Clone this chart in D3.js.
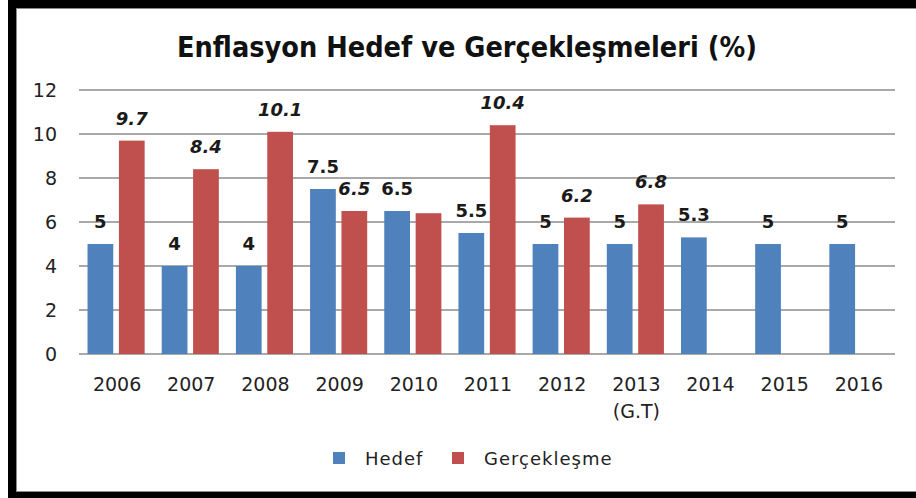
<!DOCTYPE html>
<html>
<head>
<meta charset="utf-8">
<script src="https://cdn.jsdelivr.net/npm/d3@7"></script>
<style>
  body { margin: 0; background: #fff; }
  svg { display: block; }
</style>
</head>
<body>
<div id="chart"></div>
<script>
// chart data
var years = ["2006", "2007", "2008", "2009", "2010", "2011", "2012", "2013", "2014", "2015", "2016"];
var yearSub = ["", "", "", "", "", "", "", "(G.T)", "", "", ""];
var hedef = [5, 4, 4, 7.5, 6.5, 5.5, 5, 5, 5.3, 5, 5];
var gerceklesme = [9.7, 8.4, 10.1, 6.5, 6.4, 10.4, 6.2, 6.8, null, null, null];
var hedefLabels = ["5", "4", "4", "7.5", "6.5", "5.5", "5", "5", "5.3", "5", "5"];
var gercLabels = ["9.7", "8.4", "10.1", "6.5", "", "10.4", "6.2", "6.8", "", "", ""];
var yTicks = [0, 2, 4, 6, 8, 10, 12];
var seriesNames = ["Hedef", "Gerçekleşme"];
var seriesColors = ["#4F81BD", "#C0504D"];

var W = 916, H = 498;
var svg = d3.select("#chart").append("svg")
    .attr("width", W)
    .attr("height", H);

// frame
svg.append("rect").attr("x", 8).attr("y", 0).attr("width", W - 8).attr("height", H).attr("fill", "#000");
svg.append("rect").attr("x", 16.5).attr("y", 8.5).attr("width", W - 16).attr("height", 483)
    .attr("fill", "#fff").attr("stroke", "#8a8a8a").attr("stroke-width", 1);

// title
svg.append("text")
    .attr("x", 467)
    .attr("y", 57)
    .attr("text-anchor", "middle")
    .style("font-family", "'DejaVu Sans', sans-serif")
    .style("font-weight", "bold")
    .style("font-size", "28px")
    .attr("textLength", 580)
    .attr("lengthAdjust", "spacingAndGlyphs")
    .attr("fill", "#111")
    .text("Enflasyon Hedef ve Gerçekleşmeleri (%)");

var plotLeft = 79, plotRight = 895, plotTop = 90, plotBottom = 354;

var x0 = d3.scaleBand()
    .domain(years)
    .range([plotLeft, plotRight])
    .paddingInner(0.23)
    .paddingOuter(0.115);

var x1 = d3.scaleBand()
    .domain([0, 1])
    .range([0, x0.bandwidth()])
    .paddingInner(0.18);

var y = d3.scaleLinear()
    .domain([0, 12])
    .range([plotBottom, plotTop]);

// gridlines
svg.append("g")
    .selectAll("line")
    .data(yTicks)
    .enter()
    .append("line")
    .attr("x1", plotLeft)
    .attr("x2", plotRight)
    .attr("y1", function (d) { return y(d); })
    .attr("y2", function (d) { return y(d); })
    .attr("stroke", "#8c8c8c")
    .attr("stroke-width", 1.6);

// y labels
svg.append("g")
    .selectAll("text")
    .data(yTicks)
    .enter()
    .append("text")
    .attr("x", 57)
    .attr("y", function (d) { return y(d) + 7; })
    .attr("text-anchor", "end")
    .style("font-family", "'DejaVu Sans', sans-serif")
    .style("font-size", "19px")
    .attr("fill", "#222")
    .text(function (d) { return d; });

// bars
var rows = years.map(function (yr, i) {
    return { year: yr, vals: [hedef[i], gerceklesme[i]], labels: [hedefLabels[i], gercLabels[i]] };
});

var groups = svg.append("g")
    .selectAll("g")
    .data(rows)
    .enter()
    .append("g")
    .attr("transform", function (d) { return "translate(" + x0(d.year) + ",0)"; });

var cells = groups.selectAll("g")
    .data(function (d) {
        return [0, 1].map(function (s) { return { s: s, v: d.vals[s], label: d.labels[s] }; })
            .filter(function (c) { return c.v != null; });
    })
    .enter()
    .append("g");

cells.append("rect")
    .attr("x", function (d) { return x1(d.s); })
    .attr("width", x1.bandwidth())
    .attr("y", function (d) { return y(d.v); })
    .attr("height", function (d) { return plotBottom - y(d.v); })
    .attr("fill", function (d) { return seriesColors[d.s]; });

cells.append("text")
    .attr("x", function (d) { return x1(d.s) + x1.bandwidth() / 2; })
    .attr("y", function (d) { return y(d.v) - 16; })
    .attr("text-anchor", "middle")
    .style("font-family", "'DejaVu Sans', sans-serif")
    .style("font-size", "18px")
    .style("font-weight", "bold")
    .style("font-style", function (d) { return d.s == 1 ? "italic" : "normal"; })
    .attr("fill", "#1a1a1a")
    .text(function (d) { return d.label; });

// x labels
svg.append("g")
    .selectAll("text")
    .data(years)
    .enter()
    .append("text")
    .attr("x", function (d) { return x0(d) + x0.bandwidth() / 2 + 1; })
    .attr("y", 391)
    .attr("text-anchor", "middle")
    .style("font-family", "'DejaVu Sans', sans-serif")
    .style("font-size", "19px")
    .attr("fill", "#222")
    .text(function (d) { return d; });

svg.append("g")
    .selectAll("text")
    .data(years.filter(function (d, i) { return yearSub[i] != ""; }))
    .enter()
    .append("text")
    .attr("x", function (d) { return x0(d) + x0.bandwidth() / 2 + 1; })
    .attr("y", 418)
    .attr("text-anchor", "middle")
    .style("font-family", "'DejaVu Sans', sans-serif")
    .style("font-size", "19px")
    .attr("fill", "#222")
    .text(function (d) { return yearSub[years.indexOf(d)]; });

// legend
var legX = [333, 452];
var leg = svg.append("g")
    .selectAll("g")
    .data(seriesNames)
    .enter()
    .append("g");

leg.append("rect")
    .attr("x", function (d, i) { return legX[i]; })
    .attr("y", 452)
    .attr("width", 12)
    .attr("height", 12)
    .attr("fill", function (d, i) { return seriesColors[i]; });

leg.append("text")
    .attr("x", function (d, i) { return legX[i] + 32; })
    .attr("y", 465)
    .style("font-family", "'DejaVu Sans', sans-serif")
    .style("font-size", "18px")
    .style("letter-spacing", "1px")
    .attr("fill", "#222")
    .text(function (d) { return d; });
</script>
</body>
</html>
